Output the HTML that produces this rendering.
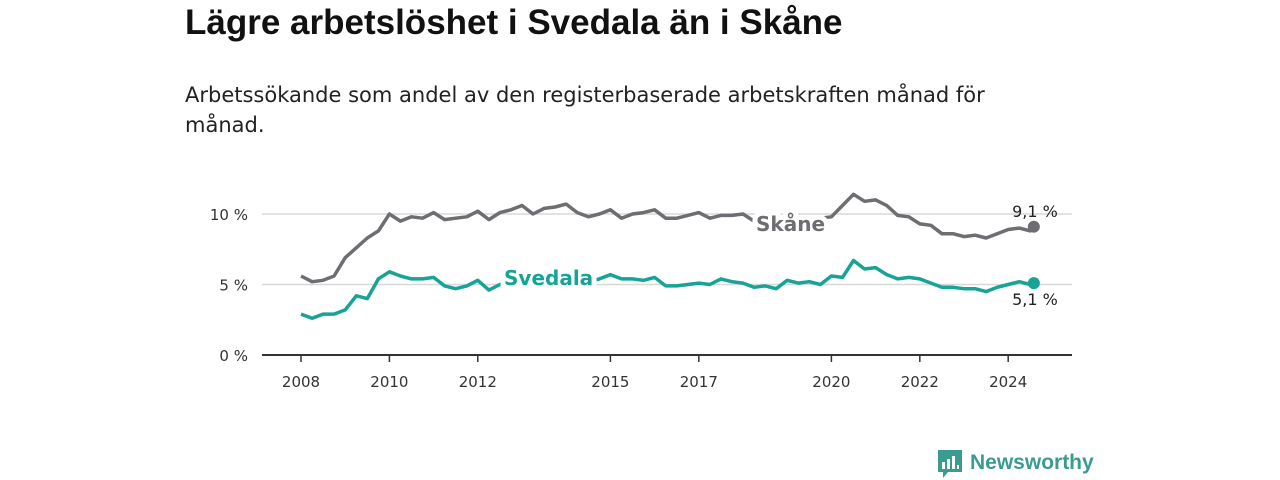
<!DOCTYPE html>
<html><head><meta charset="utf-8">
<style>
body{margin:0;width:1280px;height:480px;background:#fff;font-family:"Liberation Sans",sans-serif;overflow:hidden;position:relative}
#title{position:absolute;left:185px;top:3px;font-size:35px;font-weight:bold;color:#111;margin:0;white-space:nowrap}
#sub{position:absolute;left:185px;top:80px;width:850px;font-family:"DejaVu Sans",sans-serif;font-size:21px;line-height:30px;color:#222}
svg{position:absolute;left:0;top:0}
</style></head><body>
<h1 id="title">Lägre arbetslöshet i Svedala än i Skåne</h1>
<div id="sub">Arbetssökande som andel av den registerbaserade arbetskraften månad för månad.</div>
<svg id="chart" width="1280" height="480"></svg>
<script>
const times=[2008,2008.25,2008.5,2008.75,2009,2009.25,2009.5,2009.75,2010,2010.25,2010.5,2010.75,2011,2011.25,2011.5,2011.75,2012,2012.25,2012.5,2012.75,2013,2013.25,2013.5,2013.75,2014,2014.25,2014.5,2014.75,2015,2015.25,2015.5,2015.75,2016,2016.25,2016.5,2016.75,2017,2017.25,2017.5,2017.75,2018,2018.25,2018.5,2018.75,2019,2019.25,2019.5,2019.75,2020,2020.25,2020.5,2020.75,2021,2021.25,2021.5,2021.75,2022,2022.25,2022.5,2022.75,2023,2023.25,2023.5,2023.75,2024,2024.25,2024.5,2024.58];
const skane=[5.6,5.2,5.3,5.6,6.9,7.6,8.3,8.8,10.0,9.5,9.8,9.7,10.1,9.6,9.7,9.8,10.2,9.6,10.1,10.3,10.6,10.0,10.4,10.5,10.7,10.1,9.8,10.0,10.3,9.7,10.0,10.1,10.3,9.7,9.7,9.9,10.1,9.7,9.9,9.9,10.0,9.5,9.1,9.3,9.4,9.6,9.7,9.7,9.8,10.6,11.4,10.9,11.0,10.6,9.9,9.8,9.3,9.2,8.6,8.6,8.4,8.5,8.3,8.6,8.9,9.0,8.8,9.1];
const svedala=[2.9,2.6,2.9,2.9,3.2,4.2,4.0,5.4,5.9,5.6,5.4,5.4,5.5,4.9,4.7,4.9,5.3,4.6,5.0,5.2,5.4,5.4,5.4,5.3,5.3,5.3,5.2,5.4,5.7,5.4,5.4,5.3,5.5,4.9,4.9,5.0,5.1,5.0,5.4,5.2,5.1,4.8,4.9,4.7,5.3,5.1,5.2,5.0,5.6,5.5,6.7,6.1,6.2,5.7,5.4,5.5,5.4,5.1,4.8,4.8,4.7,4.7,4.5,4.8,5.0,5.2,5.0,5.1];
const yTicks=[0,5,10];
const yTickLabels=["0 %","5 %","10 %"];
const xTicks=[2008,2010,2012,2015,2017,2020,2022,2024];
const NS="http://www.w3.org/2000/svg";
const FONT='DejaVu Sans, sans-serif';
const svg=document.getElementById('chart');
const X=t=>301+(t-2008)*44.2;
const Y=v=>355-v*14.1;
function el(tag,attrs,parent){const e=document.createElementNS(NS,tag);for(const k in attrs)e.setAttribute(k,attrs[k]);(parent||svg).appendChild(e);return e;}
yTicks.forEach((v,i)=>{
  if(v>0){const g=el('line',{x1:262,x2:1072,y1:Y(v),y2:Y(v),stroke:'#d8d8d8','stroke-width':1.5});
  
  }
  const t=el('text',{x:248,y:Y(v)+6,'text-anchor':'end','font-size':15,fill:'#333','font-family':FONT});
  t.textContent=yTickLabels[i];
  
  
});
const ax=el('line',{x1:262,x2:1072,y1:355,y2:355,stroke:'#333','stroke-width':2});


xTicks.forEach(v=>{
  const tk=el('line',{x1:X(v),x2:X(v),y1:355,y2:362,stroke:'#333','stroke-width':1.5});
  
  
  const t=el('text',{x:X(v),y:387,'text-anchor':'middle','font-size':15,fill:'#333','font-family':FONT});
  t.textContent=v;
  
  
});
function series(vals,color,name){
  const d=vals.map((v,i)=>(i?'L':'M')+X(times[i]).toFixed(1)+','+Y(v).toFixed(1)).join('');
  const p=el('path',{d:d,fill:'none',stroke:color,'stroke-width':3.5,'stroke-linejoin':'round'});
  
  
  const n=vals.length-1;
  const c=el('circle',{cx:X(times[n]),cy:Y(vals[n]),r:6,fill:color});
  
  
}
series(skane,'#6e6d72','skane');
series(svedala,'#17a396','svedala');
function label(txt,x,y,color,name){
  const t=el('text',{x:x,y:y,'font-size':20,'font-weight':'bold',fill:color,stroke:'#fff','stroke-width':10,'paint-order':'stroke','font-family':FONT});
  t.textContent=txt;
  
  
}
label('Skåne',756,231,'#6e6d72','skane-series-label');
label('Svedala',504,285,'#17a396','svedala-series-label');
function svgLast(a){return a[a.length-1].toFixed(1).replace('.',',')+' %';}
function val(txt,x,y,name){
  const t=el('text',{x:x,y:y,'font-size':16,fill:'#222','text-anchor':'middle','font-family':FONT});
  t.textContent=txt;
  
  
}
val(svgLast(skane),1035,217,'skane-last-value');
val(svgLast(svedala),1035,305,'svedala-last-value');
</script>
<div style="position:absolute;left:938px;top:450px;display:flex;align-items:center;gap:8px">
  <svg width="24" height="30" style="position:static"><path d="M0,0H24V22H10L5,28V22H0Z" fill="#3a9b8f"/><rect x="4" y="12" width="3" height="7" fill="#fff"/><rect x="9" y="9" width="3" height="10" fill="#fff"/><rect x="14" y="6" width="3" height="13" fill="#fff"/><rect x="19" y="15" width="2" height="4" fill="#fff"/></svg>
  <span style="font-size:21px;font-weight:bold;color:#3a9b8f;margin-top:-4px">Newsworthy</span>
</div>
</body></html>
